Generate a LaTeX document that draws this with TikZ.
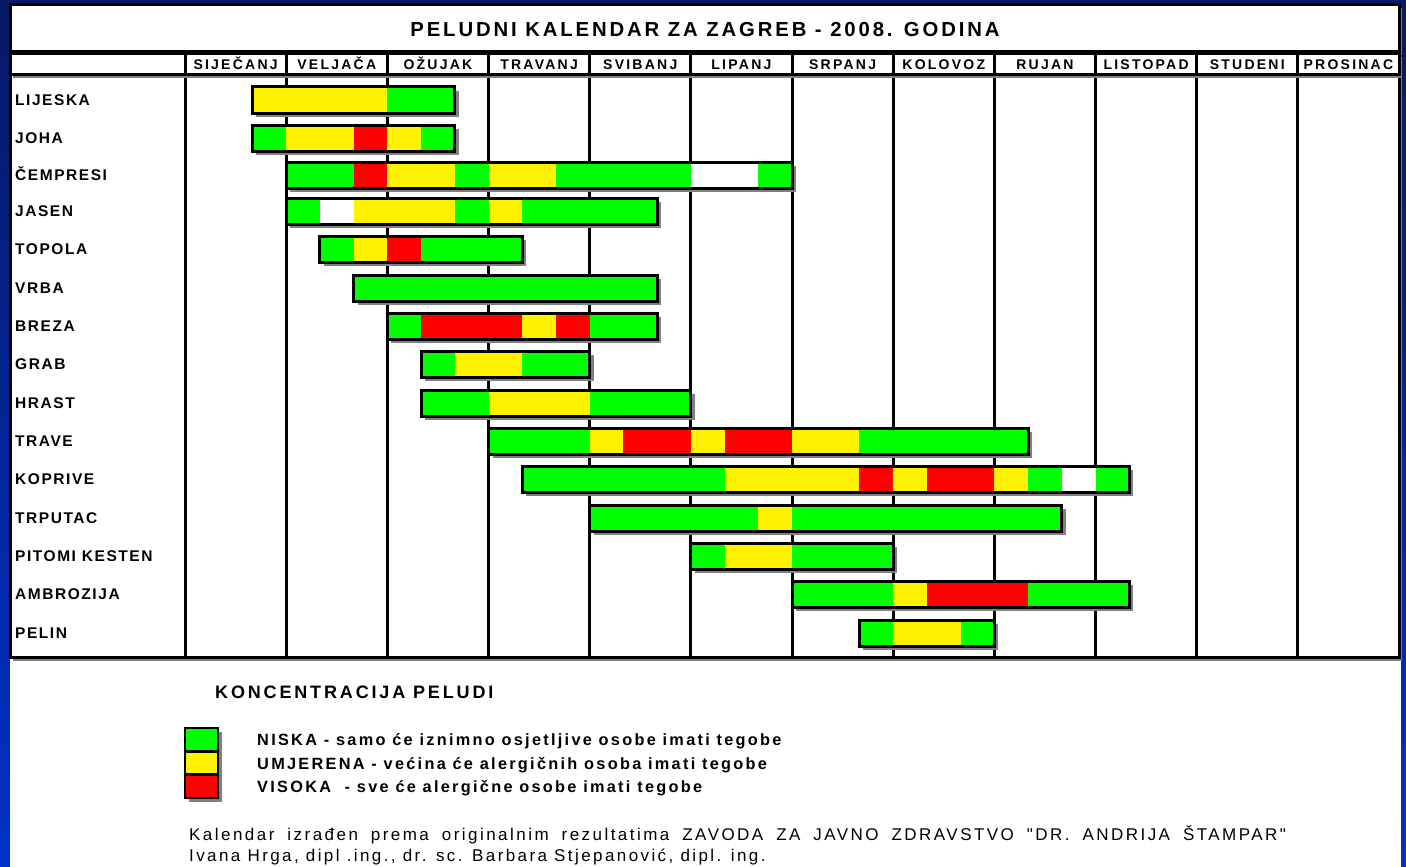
\documentclass[tikz,border=0pt]{standalone}
\usepackage{fontspec}
\setmainfont{Liberation Sans}
\newfontfamily\titlefont{Liberation Sans}[LetterSpace=14.2]
\newfontfamily\monthfont{Liberation Sans}[LetterSpace=16]
\newfontfamily\rowfont{Liberation Sans}[LetterSpace=10]
\newfontfamily\legtfont{Liberation Sans}[LetterSpace=15.8]
\newfontfamily\legfont{Liberation Sans}[LetterSpace=14]
\newfontfamily\noteAfont{Liberation Sans}[LetterSpace=14.5,WordSpace=1.8]
\newfontfamily\noteBfont{Liberation Sans}[LetterSpace=14.2]
\definecolor{navytop}{RGB}{8,24,100}
\definecolor{navybot}{RGB}{0,50,200}
\definecolor{shadowgray}{RGB}{128,128,128}
\def\kw{33.7222}
\newcommand\pbar[4]{%
  \fill[shadowgray] ({185+#2*\kw+4},{#1-13+4}) rectangle ({185+#3*\kw+4},{#1+13+4});
  \foreach \a/\b/\c in {#4} {\fill[\c] ({185+\a*\kw},{#1-13}) rectangle ({185+\b*\kw},{#1+13});}
  \draw[line width=3pt] ({185+#2*\kw},{#1-13}) rectangle ({185+#3*\kw},{#1+13});
}
\tikzset{
  frame/.style={line width=3pt, draw=black},
  titletxt/.style={inner sep=0pt, text height=14.5pt, text depth=0pt, font=\titlefont\bfseries\fontsize{20.3}{24}\selectfont},
  monthtxt/.style={inner sep=0pt, text height=10pt, text depth=0pt, font=\monthfont\bfseries\fontsize{14}{16}\selectfont},
  rowtxt/.style={inner sep=0pt, anchor=west, text height=11.1pt, text depth=0pt, font=\rowfont\bfseries\fontsize{15.5}{18}\selectfont},
  legtitle/.style={inner sep=0pt, anchor=west, text height=12.9pt, text depth=0pt, font=\legtfont\bfseries\fontsize{18}{21}\selectfont},
  legtxt/.style={inner sep=0pt, anchor=west, text height=11.7pt, text depth=0pt, font=\legfont\bfseries\fontsize{16.3}{19}\selectfont},
  notetxt/.style={inner sep=0pt, anchor=west, text height=12.2pt, text depth=0pt},
}
\begin{document}
\begin{tikzpicture}[x=1pt,y=-1pt]
\useasboundingbox (0,0) rectangle (1406,867);
\shade[top color=navytop, bottom color=navybot] (0,0) rectangle (1406,867);
\fill[white] (10,5) rectangle (1401,867);
% title box
\fill[shadowgray] (13,8) rectangle (1402,55);
\draw[frame, fill=white] (10,5) rectangle (1399,52);
\node[titletxt] (title) at (705,29) {PELUDNI KALENDAR ZA ZAGREB - 2008. GODINA};
% body
\fill[shadowgray] (13,78) rectangle (1402,661);
\draw[frame, fill=white] (10,75) rectangle (1399,657);
\foreach \m in {0,...,11} {\draw[line width=3pt] ({185+\m*101.1667},77) -- ({185+\m*101.1667},657);}
% header row
\fill[shadowgray] (13,57) rectangle (1402,78);
\draw[frame, fill=white] (10,54) rectangle (185,75);
\foreach \m in {0,...,11} {\draw[frame, fill=white] ({185+\m*101.1667},54) rectangle ({185+(\m+1)*101.1667},75);}
\foreach \m/\t in {0/SIJEČANJ,1/VELJAČA,2/OŽUJAK,3/TRAVANJ,4/SVIBANJ,5/LIPANJ,6/SRPANJ,7/KOLOVOZ,8/RUJAN,9/LISTOPAD,10/STUDENI,11/PROSINAC}
  {\node[monthtxt] (mon\m) at ({185+(\m+0.5)*101.1667},64.5) {\t};}
% row labels
\foreach \i/\y/\t in {1/100/LIJESKA,2/138/JOHA,3/175/ČEMPRESI,4/211/JASEN,5/249/TOPOLA,6/288/VRBA,7/326/BREZA,8/364/GRAB,9/403/HRAST,10/441/TRAVE,11/479/KOPRIVE,12/518/TRPUTAC,13/556/PITOMI KESTEN,14/594/AMBROZIJA,15/633/PELIN}
  {\node[rowtxt] (row\i) at (15,\y) {\t};}
% bars
\pbar{100}{2}{8}{2/6/yellow,6/8/green}
\pbar{138}{2}{8}{2/3/green,3/5/yellow,5/6/red,6/7/yellow,7/8/green}
\pbar{175}{3}{18}{3/5/green,5/6/red,6/8/yellow,8/9/green,9/11/yellow,11/15/green,15/17/white,17/18/green}
\pbar{211}{3}{14}{3/4/green,4/5/white,5/8/yellow,8/9/green,9/10/yellow,10/14/green}
\pbar{249}{4}{10}{4/5/green,5/6/yellow,6/7/red,7/10/green}
\pbar{288}{5}{14}{5/14/green}
\pbar{326}{6}{14}{6/7/green,7/10/red,10/11/yellow,11/12/red,12/14/green}
\pbar{364}{7}{12}{7/8/green,8/10/yellow,10/12/green}
\pbar{403}{7}{15}{7/9/green,9/12/yellow,12/15/green}
\pbar{441}{9}{25}{9/12/green,12/13/yellow,13/15/red,15/16/yellow,16/18/red,18/20/yellow,20/25/green}
\pbar{479}{10}{28}{10/16/green,16/20/yellow,20/21/red,21/22/yellow,22/24/red,24/25/yellow,25/26/green,26/27/white,27/28/green}
\pbar{518}{12}{26}{12/17/green,17/18/yellow,18/26/green}
\pbar{556}{15}{21}{15/16/green,16/18/yellow,18/21/green}
\pbar{594}{18}{28}{18/21/green,21/22/yellow,22/25/red,25/28/green}
\pbar{633}{20}{24}{20/21/green,21/23/yellow,23/24/green}
% legend
\node[legtitle] (legtitle) at (215,692) {KONCENTRACIJA PELUDI};
\fill[shadowgray] (189,732) rectangle (222,802);
\draw[line width=2.5pt, fill=green] (185,728) rectangle (218,751.3);
\draw[line width=2.5pt, fill=yellow] (185,751.3) rectangle (218,774.7);
\draw[line width=2.5pt, fill=red] (185,774.7) rectangle (218,798);
\node[legtxt] (leg1) at (257,740) {NISKA - samo će iznimno osjetljive osobe imati tegobe};
\node[legtxt] (leg2) at (257,763.5) {UMJERENA - većina će alergičnih osoba imati tegobe};
\node[legtxt] (leg3) at (257,787) {VISOKA\ \ - sve će alergične osobe imati tegobe};
% notes
\node[notetxt, font=\noteAfont\fontsize{17}{20}\selectfont] (note1) at (189,834) {Kalendar izrađen prema originalnim rezultatima ZAVODA ZA JAVNO ZDRAVSTVO "DR. ANDRIJA ŠTAMPAR"};
\node[notetxt, font=\noteBfont\fontsize{17}{20}\selectfont] (note2) at (189,855) {Ivana Hrga, dipl .ing., dr. sc. Barbara Stjepanović, dipl. ing.};
\end{tikzpicture}
\end{document}
